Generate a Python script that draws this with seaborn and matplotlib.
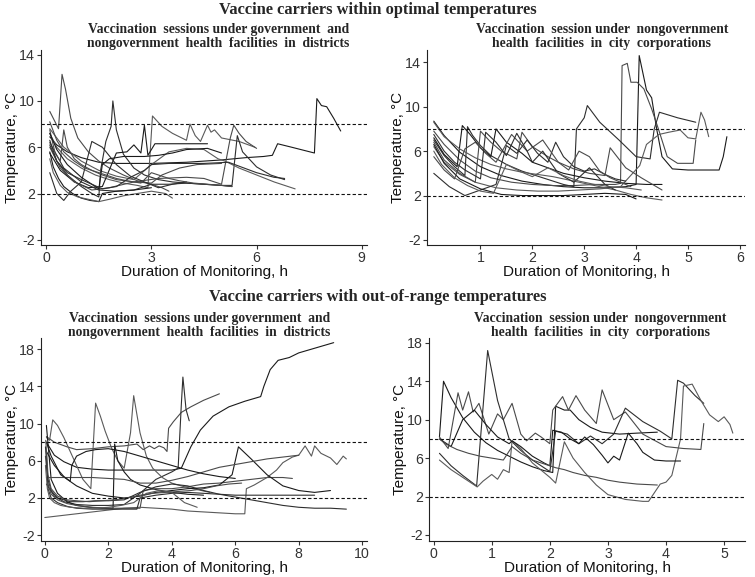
import matplotlib
matplotlib.use("Agg")
import matplotlib.pyplot as plt
import seaborn as sns
import pandas as pd

# ---------------- data: top-left (districts, within optimal) ----------------
tl_hours = [
    [0.1, 0.3, 0.6, 1.0, 1.5, 2.0, 3.0, 4.0, 5.0, 5.7, 6.2, 6.45, 6.6, 7.0, 7.65, 7.72, 7.85, 8.0, 8.2, 8.4],
    [0.1, 0.35, 0.45, 0.55, 0.7, 0.9, 1.2, 1.5, 1.8, 2.2, 2.6, 3.0, 3.3, 3.5],
    [0.1, 0.3, 0.6, 1.0, 1.3, 1.5, 1.55, 1.7, 1.85, 1.9, 2.0, 2.2, 2.5, 2.8, 3.2, 3.6, 4.0, 4.5, 5.0, 5.3],
    [0.1, 0.3, 0.6, 1.0, 1.4, 1.8, 2.2, 2.6, 2.9, 3.03, 3.3, 3.6, 4.0, 4.1, 4.25, 4.4, 4.6, 4.7, 4.8, 5.0, 5.5, 5.95],
    [0.1, 0.4, 0.8, 1.2, 1.6, 2.0, 2.3, 2.5, 2.7, 2.8, 2.9, 3.1, 3.5, 4.0, 4.6],
    [0.1, 0.4, 0.8, 1.3, 1.8, 2.5, 3.2, 4.0, 4.5, 5.0, 5.25, 5.35, 5.5, 5.7, 6.0],
    [0.1, 0.5, 1.0, 1.5, 2.0, 2.5, 3.0, 3.5, 4.0, 4.5, 5.0, 5.3, 5.45, 5.6, 6.0, 6.4, 6.8],
    [0.1, 0.5, 1.0, 1.5, 2.0, 2.5, 3.0, 3.5, 4.0, 4.5, 4.9, 5.1, 5.5, 6.0, 6.5, 7.1],
    [0.1, 0.2, 0.35, 0.5, 0.75, 1.0, 1.25, 1.5, 1.6, 2.0, 2.5, 3.0],
    [0.1, 0.25, 0.4, 0.5, 0.6, 0.8, 1.0, 1.3, 1.6, 2.0, 2.5, 3.0, 3.3, 3.8, 4.3, 5.0],
    [0.1, 0.3, 0.5, 0.7, 1.0, 1.3, 1.6, 2.0, 2.4, 2.8, 3.2, 3.6, 4.0],
    [0.1, 0.2, 0.4, 0.6, 0.9, 1.2, 1.5, 1.8, 2.2, 2.6, 3.0, 3.4, 3.6],
    [0.1, 0.3, 0.6, 1.0, 1.5, 1.6, 1.8, 2.2, 2.8, 3.2, 3.6, 4.0, 4.6, 5.0],
    [0.1, 0.3, 0.5, 0.8, 1.1, 1.4, 1.7, 2.0, 2.3, 2.7, 3.0, 3.3, 3.5, 3.8, 4.2, 4.6, 5.0, 5.3],
    [0.1, 0.3, 0.6, 1.0, 1.3, 1.6, 2.0, 2.4, 2.8, 3.0, 3.5, 4.0, 4.5, 5.2, 6.0, 6.5, 6.8],
]
tl_temps = [
    [6.9, 6.2, 5.6, 5.1, 4.7, 4.6, 4.6, 4.7, 4.9, 5.1, 5.2, 5.3, 6.3, 6.0, 5.5, 10.2, 9.6, 9.5, 8.5, 7.4],
    [9.1, 7.6, 12.3, 11.0, 8.5, 6.8, 5.6, 4.8, 4.2, 3.6, 3.1, 2.8, 2.5, 2.2],
    [6.6, 4.8, 3.6, 2.6, 2.0, 1.7, 4.0, 6.5, 7.8, 10.0, 7.5, 5.4, 4.2, 3.6, 3.2, 3.0, 2.9, 2.8, 2.7, 2.6],
    [7.2, 6.0, 5.0, 4.2, 3.6, 3.2, 2.9, 2.7, 2.5, 8.7, 7.8, 7.2, 6.6, 8.0, 7.0, 6.5, 7.9, 7.3, 7.5, 6.8, 6.5, 6.0],
    [5.5, 4.0, 3.0, 2.5, 2.6, 5.5, 5.6, 6.2, 5.5, 7.9, 5.3, 6.3, 6.3, 6.3, 6.3],
    [6.0, 4.2, 3.0, 2.3, 2.5, 3.0, 3.3, 3.4, 3.3, 2.8, 6.8, 7.9, 7.2, 6.5, 5.9],
    [6.4, 4.2, 3.0, 2.3, 2.2, 2.3, 2.8, 2.8, 2.9, 2.8, 2.7, 2.7, 7.0, 5.6, 4.3, 3.6, 3.2],
    [7.6, 6.0, 4.8, 4.0, 3.5, 3.2, 4.5, 5.6, 5.9, 5.8, 5.0, 4.8, 4.2, 3.6, 3.0, 2.4],
    [5.6, 4.3, 3.3, 2.6, 2.0, 1.6, 1.4, 1.3, 2.0, 2.2, 2.3, 2.5],
    [7.5, 5.5, 4.8, 7.5, 6.0, 5.0, 4.5, 4.0, 3.6, 3.2, 3.0, 2.9, 3.6, 4.2, 4.5, 4.6],
    [3.8, 2.0, 1.4, 2.2, 3.0, 6.5, 6.0, 4.5, 3.5, 3.0, 2.5, 2.8, 3.0],
    [5.0, 3.8, 2.7, 2.1, 1.7, 1.5, 1.3, 1.5, 1.8, 2.0, 2.2, 2.0, 1.6],
    [7.2, 5.8, 4.5, 3.4, 2.4, 4.5, 5.0, 5.2, 5.2, 5.3, 5.5, 5.8, 5.9, 5.5],
    [8.2, 6.6, 5.6, 4.8, 4.2, 3.9, 3.6, 3.3, 3.1, 2.9, 3.8, 3.5, 3.3, 3.1, 2.9, 2.8, 2.7, 2.6],
    [6.2, 4.8, 3.8, 3.2, 2.8, 2.4, 2.6, 3.4, 4.0, 4.5, 4.6, 4.6, 4.6, 4.7, 3.8, 3.4, 3.3],
]

# ---------------- data: top-right (city corporations, within optimal) ----------------
tr_hours = [
    [0.1, 0.3, 0.6, 1.0, 1.4, 1.8, 2.2, 2.6, 3.0, 3.4, 3.8, 4.0, 4.06, 4.2, 4.3, 4.4, 4.5, 4.7, 5.0, 5.3, 5.6, 5.68, 5.75],
    [0.1, 0.3, 0.6, 0.9, 1.2, 1.6, 2.0, 2.4, 2.8, 3.2, 3.6, 3.7, 3.73, 3.83, 3.9, 4.02, 4.15, 4.3, 4.43, 4.6, 4.8, 5.1, 5.15],
    [0.1, 0.3, 0.5, 0.7, 0.75, 0.85, 1.0, 1.2, 1.5, 1.8, 2.2, 2.6, 2.8, 2.85, 3.0, 3.06, 3.3, 3.67, 4.0, 4.27, 4.35, 4.45, 4.8, 5.15],
    [0.1, 0.3, 0.6, 0.9, 1.3, 1.7, 2.1, 2.5, 2.9, 3.3, 3.7, 4.07, 4.2, 4.44, 4.63, 4.85, 5.0, 5.15, 5.25, 5.32, 5.4],
    [0.1, 0.3, 0.55, 0.65, 0.8, 1.0, 1.2, 1.3, 1.5, 1.8, 2.0, 2.3, 2.6, 3.0, 3.4, 3.8, 4.2, 4.5],
    [0.1, 0.3, 0.6, 0.9, 1.0, 1.2, 1.4, 1.7, 1.8, 2.0, 2.3, 2.5, 2.8, 3.1, 3.4, 3.5, 3.8, 4.1, 4.5],
    [0.1, 0.4, 0.7, 1.0, 1.3, 1.5, 1.7, 1.9, 2.1, 2.3, 2.45, 2.6, 2.8, 3.0, 3.2, 3.4, 3.6, 3.8],
    [0.1, 0.3, 0.6, 0.9, 1.2, 1.5, 1.8, 2.1, 2.4, 2.7, 3.0, 3.3, 3.6, 3.9, 4.2, 4.5],
    [0.1, 0.3, 0.6, 1.0, 1.4, 1.8, 2.2, 2.6, 3.0, 3.4, 3.8, 4.0],
    [0.1, 0.3, 0.5, 0.7, 0.9, 1.1, 1.3, 1.6, 1.9, 2.2, 2.5, 2.7, 2.9, 3.1, 3.3, 3.5, 3.7, 3.9],
    [0.1, 0.3, 0.5, 0.7, 1.0, 1.1, 1.3, 1.5, 1.7, 1.9, 2.0, 2.2, 2.5, 2.8, 3.1, 3.4, 3.6],
    [0.1, 0.25, 0.5, 0.75, 1.0, 1.25, 1.5, 1.75, 2.0, 2.3, 2.6, 2.9, 3.2, 3.5, 3.8, 4.1],
]
tr_temps = [
    [8.7, 7.4, 5.9, 4.6, 3.8, 3.3, 3.0, 2.8, 2.7, 2.7, 2.8, 3.0, 14.6, 11.5, 10.8, 7.9, 5.5, 4.4, 4.3, 4.3, 4.3, 5.5, 7.3],
    [7.8, 6.6, 5.2, 4.2, 3.6, 3.2, 3.0, 2.9, 2.9, 3.0, 3.0, 3.1, 13.7, 13.9, 12.2, 12.2, 11.6, 9.8, 8.0, 5.5, 4.9, 4.9, 7.0],
    [7.0, 5.6, 4.6, 3.8, 8.2, 7.4, 6.5, 5.6, 4.8, 4.2, 3.6, 3.0, 2.8, 8.0, 9.0, 10.1, 8.6, 7.0, 5.5, 5.3, 8.0, 9.5, 9.0, 8.6],
    [6.4, 5.0, 3.9, 3.2, 2.7, 2.5, 2.4, 2.4, 2.5, 2.6, 2.8, 4.7, 6.6, 7.5, 7.7, 7.9, 7.2, 7.1, 9.5, 8.8, 7.3],
    [7.2, 5.7, 4.6, 8.3, 7.5, 6.3, 5.5, 8.0, 6.8, 5.8, 5.0, 4.5, 4.0, 3.6, 3.3, 3.1, 3.0, 3.0],
    [6.8, 5.2, 4.0, 3.2, 7.8, 6.8, 6.0, 5.3, 7.7, 6.4, 5.5, 5.0, 4.4, 4.0, 3.8, 6.3, 4.5, 3.6, 2.5],
    [4.0, 2.8, 2.0, 2.5, 3.0, 6.5, 5.8, 7.0, 5.8, 5.0, 6.8, 5.5, 4.6, 4.2, 4.4, 3.9, 3.5, 3.3],
    [8.6, 7.3, 6.2, 5.4, 4.8, 4.4, 4.1, 3.9, 3.7, 3.4, 3.1, 2.8, 2.5, 2.1, 1.8, 1.6],
    [6.6, 4.9, 3.5, 2.6, 2.1, 2.0, 2.0, 2.0, 2.1, 2.2, 2.1, 1.7],
    [5.5, 4.3, 3.5, 6.2, 6.8, 5.8, 5.0, 7.5, 6.0, 7.0, 5.0, 4.3, 6.0, 5.5, 4.2, 3.6, 3.2, 2.8],
    [7.5, 6.0, 5.0, 4.3, 3.5, 7.7, 6.8, 5.6, 7.6, 6.0, 5.0, 6.0, 4.0, 3.2, 4.5, 3.0, 2.5],
    [6.0, 4.8, 3.6, 2.9, 2.4, 2.2, 4.8, 4.2, 3.7, 4.5, 3.8, 3.3, 3.0, 2.8, 2.7, 2.5],
]

# ---------------- data: bottom-left (districts, out-of-range) ----------------
bl_hours = [
    [0.05, 0.3, 0.6, 1.0, 1.5, 2.0, 2.5, 3.0, 3.5, 4.0, 4.3, 4.6, 4.9, 5.3, 5.8, 6.3, 6.8, 6.9, 7.1, 7.35, 7.7, 8.0, 8.5, 9.1],
    [0.05, 0.3, 0.7, 1.0, 1.5, 2.0, 2.5, 2.9, 3.1, 3.3, 3.45, 3.6, 3.75, 3.85, 3.9, 4.05, 4.3, 4.6, 5.0, 5.5],
    [0.05, 0.3, 0.6, 1.0, 1.5, 2.0, 2.5, 3.0, 3.5, 4.0, 4.2, 4.3, 4.35, 4.45, 4.55],
    [0.05, 0.15, 0.25, 0.4, 0.6, 0.8, 1.0, 1.2, 1.45, 1.6, 1.75, 1.9, 2.1, 2.3, 2.5, 2.7, 2.8, 2.9, 3.0, 3.2, 3.4, 3.7, 4.0, 4.4, 4.8, 5.2],
    [0.05, 0.2, 0.4, 0.7, 1.0, 1.4, 1.8, 2.15, 2.2, 2.3, 2.5, 2.7, 3.0, 3.5, 4.0, 4.5, 5.0],
    [0.02, 0.1, 0.2, 0.4, 0.7, 1.0, 1.5, 2.0, 2.5, 3.0, 3.1, 3.5, 4.0, 4.5, 5.0, 5.5, 6.0, 6.5, 7.0, 7.5, 7.8],
    [0.02, 0.1, 0.2, 0.4, 0.8, 1.2, 1.6, 2.0, 2.5, 3.0, 3.5, 4.0, 4.5, 5.0, 5.5, 6.0, 6.5, 7.0, 7.5, 8.0, 8.5, 9.0, 9.5],
    [0.0, 0.5, 1.0, 1.5, 2.0, 2.5, 3.0, 3.5, 4.0, 4.5, 5.0, 5.5, 6.0, 6.3, 6.35, 6.6, 7.0, 7.3, 7.5, 7.8, 8.0, 8.2, 8.4, 8.5, 8.7, 9.0, 9.2, 9.4, 9.5],
    [0.05, 0.2, 0.5, 1.0, 1.5, 2.0, 2.5, 3.0, 3.5, 4.0, 4.5, 5.0, 5.5, 5.9, 6.1, 6.5, 7.0, 7.5, 8.0, 8.5, 9.0],
    [0.05, 0.5, 1.0, 1.5, 2.0, 2.5, 3.0, 3.5, 4.0, 4.5, 5.0, 5.5, 6.0, 6.5, 7.0, 7.5, 8.0],
    [0.05, 0.1, 0.2, 0.4, 0.7, 1.0, 1.5, 2.0, 2.5, 2.9, 3.0, 3.5, 4.0, 4.5, 5.0, 5.5, 6.0, 6.5, 7.0, 7.5, 8.0, 8.5],
    [0.02, 0.08, 0.15, 0.3, 0.5, 0.8, 1.2, 1.6, 2.0, 2.4, 2.8, 3.2, 3.6, 4.0, 4.4, 4.8],
    [0.05, 0.3, 0.6, 0.8, 0.85, 1.0, 1.3, 1.6, 2.0, 2.5, 3.0, 3.5, 4.0, 4.5, 5.0, 5.5, 6.0],
    [0.03, 0.1, 0.2, 0.4, 0.7, 1.0, 1.4, 1.8, 2.2, 2.6, 3.0, 3.4, 3.8, 4.2, 4.6, 5.0, 5.4, 5.8, 6.2],
]
bl_temps = [
    [8.0, 6.6, 5.9, 5.3, 5.1, 5.0, 5.0, 5.0, 5.0, 5.0, 5.2, 7.5, 9.3, 10.8, 11.8, 12.4, 12.9, 14.0, 15.8, 16.8, 17.1, 17.6, 18.1, 18.7],
    [8.6, 8.0, 7.5, 7.2, 7.3, 7.5, 7.6, 7.8, 7.2, 7.6, 7.3, 7.6, 7.4, 7.0, 9.5, 10.2, 11.2, 11.8, 12.5, 13.2],
    [3.5, 2.2, 1.6, 1.3, 1.2, 1.2, 1.3, 2.5, 4.0, 4.8, 5.2, 12.0, 15.0, 11.5, 10.3],
    [8.5, 8.2, 10.4, 9.8, 8.5, 7.0, 5.5, 4.0, 3.0, 12.2, 10.8, 9.2, 7.4, 6.0, 5.2, 9.0, 13.0, 11.0, 9.0, 6.5, 5.2, 4.2, 3.6, 3.2, 2.9, 2.6],
    [9.8, 4.0, 2.5, 1.6, 1.2, 1.0, 0.9, 0.9, 7.8, 6.0, 4.8, 4.0, 3.4, 2.9, 2.6, 2.4, 2.3],
    [6.5, 3.5, 2.4, 1.8, 1.4, 1.2, 1.0, 0.9, 0.9, 0.9, 2.8, 3.0, 3.0, 3.2, 3.5, 3.6, 3.8, 4.0, 4.2, 4.2, 4.1],
    [7.5, 4.0, 2.8, 2.0, 1.6, 1.6, 1.7, 1.7, 1.8, 2.6, 3.2, 3.5, 3.3, 2.8, 2.4, 2.1, 1.8, 1.5, 1.2, 1.0, 0.9, 0.9, 0.8],
    [-0.1, 0.1, 0.3, 0.5, 0.7, 0.9, 1.0, 0.9, 0.8, 0.6, 0.5, 0.4, 0.3, 0.3, 3.0, 3.4, 4.2, 5.0, 5.8, 6.4, 6.6, 7.6, 6.5, 7.6, 6.8, 6.3, 5.6, 6.5, 6.2],
    [8.0, 6.5, 4.5, 3.3, 2.5, 2.2, 2.0, 2.2, 2.6, 2.8, 3.0, 3.1, 3.4, 4.5, 7.5, 6.2, 4.5, 3.3, 2.8, 2.6, 2.8],
    [4.2, 4.2, 4.2, 4.2, 4.1, 4.0, 3.6, 3.6, 3.9, 4.3, 4.8, 5.3, 5.6, 5.9, 6.2, 6.4, 6.6],
    [7.0, 3.0, 2.0, 1.5, 1.1, 0.9, 0.8, 0.8, 0.8, 0.8, 2.0, 2.3, 2.5, 2.6, 2.5, 2.4, 2.3, 2.3, 2.3, 2.3, 2.3, 2.3],
    [5.5, 3.0, 2.0, 1.5, 1.2, 1.0, 0.9, 0.9, 1.0, 1.2, 1.5, 2.5, 2.8, 2.6, 1.5, 1.0],
    [7.0, 5.5, 4.3, 3.8, 5.5, 6.5, 7.0, 7.2, 7.3, 7.0, 6.5, 6.0, 5.5, 5.0, 4.6, 4.3, 4.1],
    [8.2, 4.5, 3.0, 2.2, 1.8, 1.7, 1.6, 1.7, 1.8, 2.0, 2.3, 2.5, 2.6, 2.7, 2.8, 3.0, 3.3, 3.5, 3.6],
]

# ---------------- data: bottom-right (city corporations, out-of-range) ----------------
br_hours = [
    [0.1, 0.17, 0.3, 0.5, 0.7, 0.9, 1.1, 1.3, 1.5, 1.7, 1.9, 2.05, 2.1, 2.25, 2.35, 2.5, 2.7, 2.9, 3.2, 3.5, 3.85],
    [0.1, 0.25, 0.42, 0.5, 0.6, 0.68, 0.78, 0.95, 1.1, 1.2, 1.35, 1.5, 1.6, 1.75, 1.85, 2.0, 2.05, 2.22, 2.32, 2.45, 2.6, 2.8, 2.9, 3.1, 3.3, 3.6, 4.0, 4.3, 4.6, 4.65],
    [0.1, 0.3, 0.5, 0.74, 0.93, 1.1, 1.3, 1.5, 1.7, 1.9, 2.0, 2.1, 2.3, 2.5, 2.7, 2.9, 3.1, 3.3, 3.6, 3.9, 4.1, 4.2, 4.3, 4.5, 4.65],
    [0.1, 0.3, 0.5, 0.75, 0.85, 1.0, 1.1, 1.2, 1.3, 1.35, 1.5, 1.7, 1.9, 2.0, 2.1, 2.25, 2.4, 2.6, 2.8, 3.0, 3.3, 3.6, 3.7, 3.9, 4.0, 4.1, 4.25, 4.3, 4.45, 4.6, 4.75, 4.9, 5.0, 5.1, 5.15],
    [0.1, 0.3, 0.5, 0.7, 0.9, 1.1, 1.3, 1.35, 1.5, 1.7, 1.9, 2.0, 2.05, 2.2, 2.35, 2.5, 2.6, 2.75, 2.9, 3.0, 3.1, 3.2, 3.35, 3.5, 3.6, 3.8, 4.0, 4.25],
    [0.1, 0.2, 0.4, 0.6, 0.8, 1.0, 1.2, 1.35, 1.5, 1.7, 1.9, 2.1, 2.25, 2.4, 2.6, 2.8, 3.0, 3.2, 3.5, 3.85],
]
br_temps = [
    [8.2, 14.0, 12.3, 10.2, 8.7, 7.6, 6.8, 6.2, 5.6, 5.1, 4.7, 4.5, 11.4, 11.0, 11.0, 10.0, 9.2, 8.7, 8.5, 8.6, 8.7],
    [8.2, 7.0, 12.8, 11.0, 12.9, 10.8, 11.7, 8.5, 10.6, 10.0, 11.7, 8.5, 7.8, 8.6, 8.2, 7.5, 11.0, 12.4, 11.0, 12.5, 11.0, 9.6, 13.1, 10.0, 10.8, 8.5, 7.2, 7.0, 6.9, 9.6],
    [6.5, 5.2, 4.2, 3.1, 17.2, 12.0, 8.0, 6.8, 5.8, 5.0, 4.6, 8.8, 8.5, 7.5, 8.3, 7.5, 8.5, 11.2, 9.8, 8.8, 8.0, 14.1, 13.8, 12.5, 11.7],
    [5.8, 4.8, 4.0, 3.0, 3.6, 4.3, 3.8, 4.8, 4.5, 7.8, 7.0, 5.5, 4.5, 4.0, 3.4, 7.7, 6.0, 4.5, 3.2, 2.2, 1.7, 1.5, 1.5, 3.3, 3.5, 4.2, 8.0, 13.5, 13.7, 12.0, 10.5, 9.8, 10.3, 9.5, 8.6],
    [8.0, 7.2, 10.0, 11.0, 9.5, 8.2, 7.5, 7.8, 7.2, 6.2, 5.5, 5.2, 8.9, 8.7, 8.0, 7.5, 8.2, 7.4, 6.3, 5.5, 6.2, 5.8, 8.6, 7.5, 6.6, 5.8, 5.7, 5.7],
    [8.0, 7.5, 6.9, 6.5, 6.2, 6.0, 5.8, 7.2, 6.5, 5.8, 5.4, 5.0, 4.8, 4.5, 4.2, 4.0, 3.7, 3.5, 3.3, 3.2],
]

tl_xticks = [0, 3, 6, 9]
tr_xticks = [1, 2, 3, 4, 5, 6]
bl_xticks = [0, 2, 4, 6, 8, 10]
br_xticks = [0, 1, 2, 3, 4, 5]
top_yticks = [-2, 2, 6, 10, 14]
bottom_yticks = [-2, 2, 6, 10, 14, 18]
limit_lines = [2, 8]

title_top = "Vaccine carriers within optimal temperatures"
title_bottom = "Vaccine carriers with out-of-range temperatures"
sub_districts = "Vaccination  sessions under government  and\nnongovernment  health  facilities  in  districts"
sub_city = "Vaccination  session under  nongovernment\nhealth  facilities  in  city  corporations"

# ---------------------------------------------------------------------------
sns.set_theme(style="ticks")
plt.rcParams["font.family"] = ["Liberation Sans", "DejaVu Sans"]
plt.rcParams["axes.unicode_minus"] = False

fig = plt.figure(figsize=(7.55, 5.77), dpi=100)

panels = [
    (tl_hours, tl_temps, [0.0543, 0.5754, 0.4318, 0.3379], (-0.15, 9.15), (-2.45, 14.4), tl_xticks, top_yticks),
    (tr_hours, tr_temps, [0.5656, 0.5754, 0.4212, 0.3379], (-0.03, 6.1), (-2.45, 15.1), tr_xticks, top_yticks),
    (bl_hours, bl_temps, [0.0543, 0.0620, 0.4318, 0.3522], (-0.12, 10.15), (-2.65, 19.2), bl_xticks, bottom_yticks),
    (br_hours, br_temps, [0.5682, 0.0620, 0.4186, 0.3522], (-0.08, 5.36), (-2.65, 18.5), br_xticks, bottom_yticks),
]

line_cols = ["#1a1a1a", "#4a4a4a", "#2e2e2e", "#5a5a5a"]

for hours, temps, rect, xl, yl, xt, yt in panels:
    ax = fig.add_axes(rect)
    rows = []
    for i, (hs, ts) in enumerate(zip(hours, temps)):
        for j, (h, t) in enumerate(zip(hs, ts)):
            rows.append({"series": f"s{i}", "order": j, "hours": h, "temp": t})
    df = pd.DataFrame(rows)
    pal = {f"s{i}": line_cols[i % len(line_cols)] for i in range(len(hours))}
    sns.lineplot(data=df, x="hours", y="temp", hue="series", units="series",
                 estimator=None, sort=False, palette=pal, linewidth=0.8,
                 legend=False, ax=ax)
    for v in limit_lines:
        ax.axhline(v, color="#111111", lw=0.8, ls=(0, (3, 2)))
    ax.set_xlim(*xl)
    ax.set_ylim(*yl)
    ax.set_xticks(xt)
    ax.set_yticks(yt)
    ax.set_xlabel("Duration of Monitoring, h", fontsize=11, color="#111111", labelpad=0)
    ax.set_ylabel("Temperature, \u00b0C", fontsize=11, color="#111111", labelpad=0)
    ax.tick_params(axis="both", labelsize=10.2, colors="#333333", length=3, width=0.8, pad=1.5)
    for s in ["top", "right"]:
        ax.spines[s].set_visible(False)
    for s in ["left", "bottom"]:
        ax.spines[s].set_color("#222222")
        ax.spines[s].set_linewidth(0.8)

serif = ["Liberation Serif", "DejaVu Serif"]
fig.text(0.5, 0.982, title_top, ha="center", va="center", fontsize=11.8,
         fontweight="bold", family=serif)
fig.text(0.5, 0.485, title_bottom, ha="center", va="center", fontsize=11.8,
         fontweight="bold", family=serif)
fig.text(0.289, 0.936, sub_districts, ha="center", va="center", fontsize=9.8,
         fontweight="bold", family=serif, linespacing=1.1)
fig.text(0.797, 0.936, sub_city, ha="center", va="center", fontsize=9.8,
         fontweight="bold", family=serif, linespacing=1.1)
fig.text(0.264, 0.436, sub_districts, ha="center", va="center", fontsize=9.8,
         fontweight="bold", family=serif, linespacing=1.1)
fig.text(0.795, 0.436, sub_city, ha="center", va="center", fontsize=9.8,
         fontweight="bold", family=serif, linespacing=1.1)

fig.savefig("out.png", dpi=100)
